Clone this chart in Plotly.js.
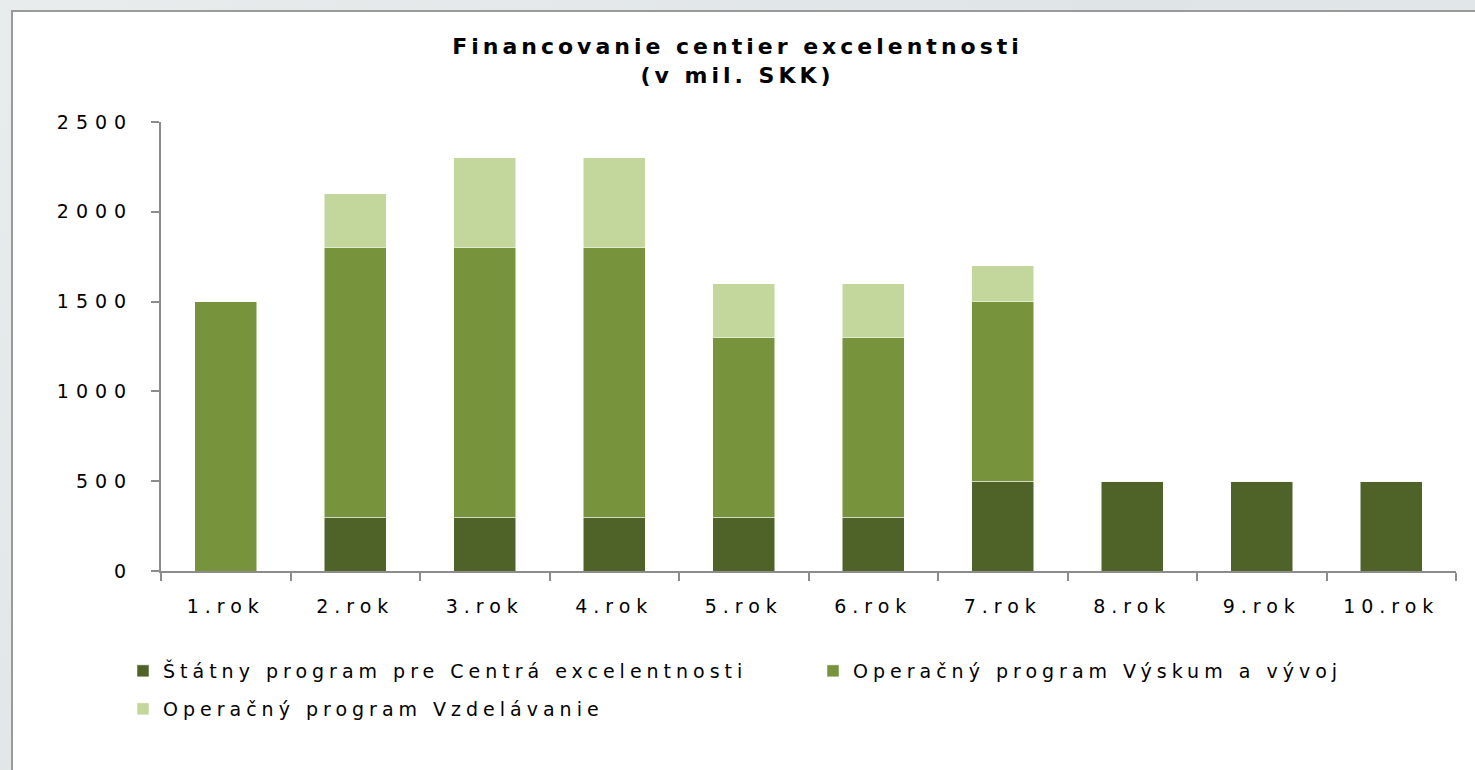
<!DOCTYPE html>
<html><head><meta charset="utf-8">
<script src="https://cdn.plot.ly/plotly-3.0.1.min.js"></script>
<style>
html,body{margin:0;padding:0;width:1475px;height:770px;overflow:hidden;
background:linear-gradient(135deg,#e9eced 0%,#dfe4e6 50%,#e6e9ea 100%);}
#panel{position:absolute;left:11px;top:10px;width:1470px;height:770px;background:#fff;
border-left:2px solid #9a9a9a;border-top:2px solid #9a9a9a;box-sizing:border-box;}
#chart{position:absolute;left:0;top:0;width:1475px;height:770px;}
#chart .xtick text{letter-spacing:6px !important;}
#chart .ytick text{letter-spacing:7px !important;}
#chart text.legendtext,#chart text.legend2text,#chart text.legend3text{letter-spacing:5px !important;}
#chart .scrollbox{clip-path:none !important;}
#chart .gtitle{letter-spacing:4px !important;}
#chart .legendbar path{transform:scale(1.55,0.9);}
</style></head><body>
<div id="panel"></div>
<div id="chart"></div>
<script>
const categories = ['1.rok','2.rok','3.rok','4.rok','5.rok','6.rok','7.rok','8.rok','9.rok','10.rok'];
const statnyProgram = [0,300,300,300,300,300,500,500,500,500];
const opVyskum = [1500,1500,1500,1500,1000,1000,1000,0,0,0];
const opVzdelavanie = [0,300,500,500,300,300,200,0,0,0];
const seriesNames = ['Štátny program pre Centrá excelentnosti','Operačný program Výskum a vývoj','Operačný program Vzdelávanie'];
const colors = ['#4f6228','#77933c','#c3d69b'];
const legendIds = ['legend','legend3','legend2'];

const traces = [statnyProgram, opVyskum, opVzdelavanie].map((vals,i)=>({
  type:'bar', x:categories, y:vals, name:seriesNames[i], legend:legendIds[i],
  marker:{color:colors[i], line:{color:'#ffffff', width:0.5}},
  hoverinfo:'x+y+name'
}));

const font = 'DejaVu Sans, Open Sans, sans-serif';
function makeLegend(xPix, yPix){
  return {orientation:'h', xref:'paper', yref:'paper',
    x:(xPix-161)/1295, y:(571-yPix)/449, xanchor:'left', yanchor:'middle',
    traceorder:'normal',
    font:{family:font, size:19, color:'#000'}, itemwidth:30,
    bgcolor:'rgba(0,0,0,0)', borderwidth:0};
}
const layout = {
  width:1475, height:770,
  font:{family:font, size:19, color:'#000'},
  paper_bgcolor:'rgba(0,0,0,0)', plot_bgcolor:'rgba(0,0,0,0)',
  barmode:'stack', bargap:0.52,
  margin:{l:161, r:19, t:122, b:199},
  title:{text:'<b>Financovanie centier excelentnosti<br>(v mil. SKK)</b>',
    font:{family:'DejaVu Sans, sans-serif', size:22, color:'#000'},
    x:0.5, xref:'container', y:1-54/770, yref:'container', yanchor:'top'},
  xaxis:{type:'category', showgrid:false, zeroline:false,
    showline:true, linecolor:'#8c8c8c', linewidth:2,
    ticks:'outside', tickson:'boundaries', ticklen:8, tickwidth:2, tickcolor:'#8c8c8c',
    tickfont:{family:font, size:19, color:'#000'}, ticklabelstandoff:17},
  yaxis:{range:[0,2500], dtick:500, showgrid:false, zeroline:false,
    showline:true, linecolor:'#8c8c8c', linewidth:2,
    ticks:'outside', ticklen:8, tickwidth:2, tickcolor:'#8c8c8c',
    tickfont:{family:font, size:19, color:'#000'}, ticklabelstandoff:14},
  showlegend:true,
  legend:makeLegend(123, 671),
  legend3:makeLegend(813, 671),
  legend2:makeLegend(123, 709)
};
Plotly.newPlot('chart', traces, layout, {displayModeBar:false});
</script>
</body></html>
